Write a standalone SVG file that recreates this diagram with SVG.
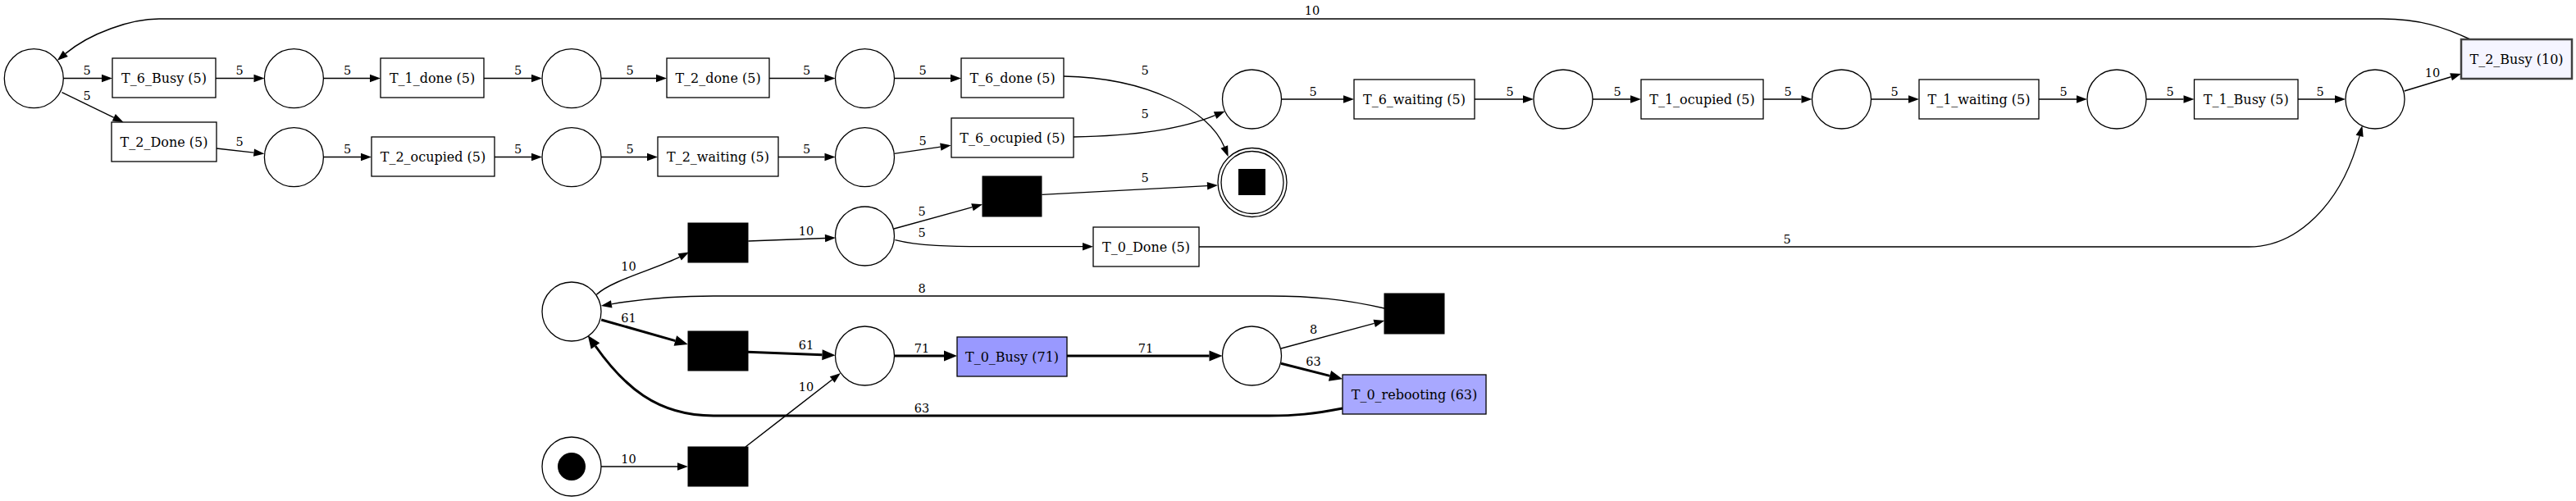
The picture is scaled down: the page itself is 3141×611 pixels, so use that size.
<svg xmlns="http://www.w3.org/2000/svg" width="3141" height="611" viewBox="0 0 3141 611">
<style>
.pl{fill:#fff;stroke:#000;stroke-width:1.3}
.tr{fill:#fff;stroke:#000;stroke-width:1.3}
.bk{fill:#000;stroke:#000;stroke-width:1}
.e{fill:none;stroke:#000;stroke-width:1.3;marker-end:url(#a)}
.e10{fill:none;stroke:#000;stroke-width:1.5;marker-end:url(#a)}
.eb{fill:none;stroke:#000;stroke-width:3;marker-end:url(#ab)}
.nl{font-family:"DejaVu Serif",serif;font-size:16px;text-anchor:middle;fill:#000}
.el{font-family:"DejaVu Serif",serif;font-size:14.5px;text-anchor:middle;fill:#000}
</style>
<defs>
<marker id="a" markerUnits="userSpaceOnUse" markerWidth="13" markerHeight="10" refX="0" refY="4.7" orient="auto" overflow="visible"><path d="M0,0 L13,4.7 L0,9.4 z" fill="#000"/></marker>
<marker id="ab" markerUnits="userSpaceOnUse" markerWidth="16" markerHeight="13" refX="0" refY="6.5" orient="auto" overflow="visible"><path d="M0,0 L16,6.5 L0,13 z" fill="#000"/></marker>
</defs>
<rect width="3141" height="611" fill="#fff"/>
<g id="connectors">
<path class="e" d="M77,95.5 L124,95.5"/>
<path class="e" d="M75.5,112.7 L138.8,143.3"/>
<path class="e" d="M263,95.5 L309.5,95.5"/>
<path class="e" d="M394.5,95.5 L451,95.5"/>
<path class="e" d="M590,95.5 L648,95.5"/>
<path class="e" d="M733,95.5 L800,95.5"/>
<path class="e" d="M938,95.5 L1005.5,95.5"/>
<path class="e" d="M1090.5,95.5 L1159,95.5"/>
<path class="e" d="M1297,93 C1400,95 1475,135 1492.8,179.1"/>
<path class="e" d="M264,181 L309.5,186.1"/>
<path class="e" d="M394.5,191.5 L440,191.5"/>
<path class="e" d="M603,191.5 L648,191.5"/>
<path class="e" d="M733,191.5 L789,191.5"/>
<path class="e" d="M949,191.5 L1005.5,191.5"/>
<path class="e" d="M1090.3,187.3 L1146.8,179.2"/>
<path class="e" d="M1309,167 C1380,166 1440,158 1481.6,140.7"/>
<path class="e" d="M1270.4,237.3 L1472,226.7"/>
<path class="e" d="M1562.5,121 L1638,121"/>
<path class="e" d="M1798,121 L1857,121"/>
<path class="e" d="M1942,121 L1988,121"/>
<path class="e" d="M2150,121 L2196.5,121"/>
<path class="e" d="M2281.5,121 L2327,121"/>
<path class="e" d="M2486,121 L2532,121"/>
<path class="e" d="M2617,121 L2662.5,121"/>
<path class="e" d="M2802,121 L2847,121"/>
<path class="e10" d="M2931.7,111 L2988.6,93.8"/>
<path class="e10" d="M3012,48 C2980,33 2950,23 2905,23 L194,23 C160,23 110,40 79.8,65.4"/>
<path class="e" d="M1462,301 L2742,301 C2800,301 2855,250 2877.1,165.9"/>
<path class="e10" d="M733,569 L826,569"/>
<path class="e10" d="M909,545 L1014.7,463"/>
<path class="e10" d="M727.4,359.3 C745,342 800,328 828.7,313.4"/>
<path class="e10" d="M912.3,294 L1006,290.5"/>
<path class="e" d="M1090,279 L1185.5,252.7"/>
<path class="e" d="M1091.4,292.7 C1120,300 1160,300.7 1200,300.7 L1320,300.7"/>
<path class="eb" d="M733.2,390 L823.4,415.6"/>
<path class="eb" d="M912,429.3 L1002.5,432.7"/>
<path class="eb" d="M1090.5,434 L1151,434"/>
<path class="eb" d="M1301,434 L1474.5,434"/>
<path class="e" d="M1562,425 L1675.7,394.4"/>
<path class="eb" d="M1562,443.3 L1621.5,458.4"/>
<path class="e" d="M1688,376 C1640,365 1600,361 1547,361 L870,361 C820,361 780,365 745.7,370.8"/>
<path class="eb" d="M1637,498 C1600,505 1580,507 1547,507 L870,507 C800,507 760,470 726,422"/>
<g id="edge-labels">
<text class="el" x="106" y="91">5</text>
<text class="el" x="106" y="122">5</text>
<text class="el" x="292" y="91">5</text>
<text class="el" x="423.5" y="91">5</text>
<text class="el" x="631.6" y="91">5</text>
<text class="el" x="768" y="91">5</text>
<text class="el" x="983.7" y="91">5</text>
<text class="el" x="1125" y="91">5</text>
<text class="el" x="1396" y="90.5">5</text>
<text class="el" x="292" y="178">5</text>
<text class="el" x="423.5" y="187">5</text>
<text class="el" x="631.6" y="187">5</text>
<text class="el" x="768" y="187">5</text>
<text class="el" x="983.7" y="187">5</text>
<text class="el" x="1125" y="177">5</text>
<text class="el" x="1396" y="144">5</text>
<text class="el" x="1396" y="222">5</text>
<text class="el" x="1601" y="117">5</text>
<text class="el" x="1841" y="117">5</text>
<text class="el" x="1972" y="117">5</text>
<text class="el" x="2180" y="117">5</text>
<text class="el" x="2310" y="117">5</text>
<text class="el" x="2516" y="117">5</text>
<text class="el" x="2646" y="117">5</text>
<text class="el" x="2829" y="117">5</text>
<text class="el" x="2966" y="93.5">10</text>
<text class="el" x="1600" y="18">10</text>
<text class="el" x="2179" y="296.7">5</text>
<text class="el" x="766.5" y="565">10</text>
<text class="el" x="983" y="476.7">10</text>
<text class="el" x="766.5" y="330">10</text>
<text class="el" x="983" y="286.7">10</text>
<text class="el" x="1124" y="262.7">5</text>
<text class="el" x="1124" y="289.3">5</text>
<text class="el" x="1124" y="356.7">8</text>
<text class="el" x="766.5" y="392.7">61</text>
<text class="el" x="983" y="426">61</text>
<text class="el" x="1124" y="429.7">71</text>
<text class="el" x="1397" y="429.7">71</text>
<text class="el" x="1124" y="502.7">63</text>
<text class="el" x="1601.5" y="407">8</text>
<text class="el" x="1601.5" y="446">63</text>
</g>
</g>
<g id="p0"><circle class="pl" cx="41.3" cy="95.7" r="36"/></g>
<g id="p1"><circle class="pl" cx="358.4" cy="95.7" r="36"/></g>
<g id="p2"><circle class="pl" cx="697" cy="95.7" r="36"/></g>
<g id="p3"><circle class="pl" cx="1054.5" cy="95.7" r="36"/></g>
<g id="p4"><circle class="pl" cx="358.4" cy="191.7" r="36"/></g>
<g id="p5"><circle class="pl" cx="697" cy="191.7" r="36"/></g>
<g id="p6"><circle class="pl" cx="1054.5" cy="191.7" r="36"/></g>
<g id="p7"><circle class="pl" cx="1526.5" cy="121" r="36"/></g>
<g id="p8"><circle class="pl" cx="1906" cy="121" r="36"/></g>
<g id="p9"><circle class="pl" cx="2245.5" cy="121" r="36"/></g>
<g id="p10"><circle class="pl" cx="2581" cy="121" r="36"/></g>
<g id="p11"><circle class="pl" cx="2896" cy="121" r="36"/></g>
<g id="pfinal"><circle class="pl" cx="1527" cy="222.5" r="42"/><circle class="pl" cx="1527" cy="222.5" r="38"/><rect x="1510" y="206" width="33" height="32" fill="#000"/></g>
<g id="pa"><circle class="pl" cx="697" cy="380" r="36"/></g>
<g id="pstart"><circle class="pl" cx="697" cy="569" r="36"/><circle cx="697" cy="569" r="17" fill="#000"/></g>
<g id="pb"><circle class="pl" cx="1054.5" cy="288" r="36"/></g>
<g id="pc"><circle class="pl" cx="1054.5" cy="434" r="36"/></g>
<g id="pd"><circle class="pl" cx="1526.5" cy="434" r="36"/></g>
<g id="ba"><rect class="bk" x="839" y="272" width="73" height="48"/></g>
<g id="bb"><rect class="bk" x="839" y="404" width="73" height="48"/></g>
<g id="bc"><rect class="bk" x="839" y="545" width="73" height="48"/></g>
<g id="bd"><rect class="bk" x="1198" y="215" width="72" height="49"/></g>
<g id="be"><rect class="bk" x="1688" y="358" width="73" height="49"/></g>
<g id="t6busy"><rect class="tr" x="137" y="71" width="126" height="48"/><text class="nl" x="200" y="100.5">T_6_Busy (5)</text></g>
<g id="t1done"><rect class="tr" x="464" y="71" width="126" height="48"/><text class="nl" x="527" y="100.5">T_1_done (5)</text></g>
<g id="t2done"><rect class="tr" x="813" y="71" width="125" height="48"/><text class="nl" x="875.5" y="100.5">T_2_done (5)</text></g>
<g id="t6done"><rect class="tr" x="1172" y="71" width="125" height="48"/><text class="nl" x="1234.5" y="100.5">T_6_done (5)</text></g>
<g id="t2Done"><rect class="tr" x="136" y="149" width="128" height="48"/><text class="nl" x="200" y="178.5">T_2_Done (5)</text></g>
<g id="t2ocupied"><rect class="tr" x="453" y="167" width="150" height="48"/><text class="nl" x="528" y="196.5">T_2_ocupied (5)</text></g>
<g id="t2waiting"><rect class="tr" x="802" y="167" width="147" height="48"/><text class="nl" x="875.5" y="196.5">T_2_waiting (5)</text></g>
<g id="t6ocupied"><rect class="tr" x="1160" y="144" width="149" height="48"/><text class="nl" x="1234.5" y="173.5">T_6_ocupied (5)</text></g>
<g id="t6waiting"><rect class="tr" x="1651" y="97" width="147" height="48"/><text class="nl" x="1724.5" y="126.5">T_6_waiting (5)</text></g>
<g id="t1ocupied"><rect class="tr" x="2001" y="97" width="149" height="48"/><text class="nl" x="2075.5" y="126.5">T_1_ocupied (5)</text></g>
<g id="t1waiting"><rect class="tr" x="2340" y="97" width="146" height="48"/><text class="nl" x="2413" y="126.5">T_1_waiting (5)</text></g>
<g id="t1busy"><rect class="tr" x="2675.5" y="97" width="126.5" height="48"/><text class="nl" x="2738.7" y="126.5">T_1_Busy (5)</text></g>
<g id="t2busy"><rect x="3001" y="48" width="135" height="48" fill="#f5f5ff" stroke="#404040" stroke-width="2.5"/><text class="nl" x="3068.5" y="77.5">T_2_Busy (10)</text></g>
<g id="t0done"><rect class="tr" x="1333" y="277" width="129" height="48"/><text class="nl" x="1397.5" y="306.5">T_0_Done (5)</text></g>
<g id="t0busy"><rect x="1167" y="411" width="134" height="48" fill="#9999ff" stroke="#000" stroke-width="1.3"/><text class="nl" x="1234" y="440.5">T_0_Busy (71)</text></g>
<g id="t0rebooting"><rect x="1637" y="457" width="175" height="48" fill="#a8a8ff" stroke="#000" stroke-width="1.3"/><text class="nl" x="1724.5" y="486.5">T_0_rebooting (63)</text></g>
</svg>
